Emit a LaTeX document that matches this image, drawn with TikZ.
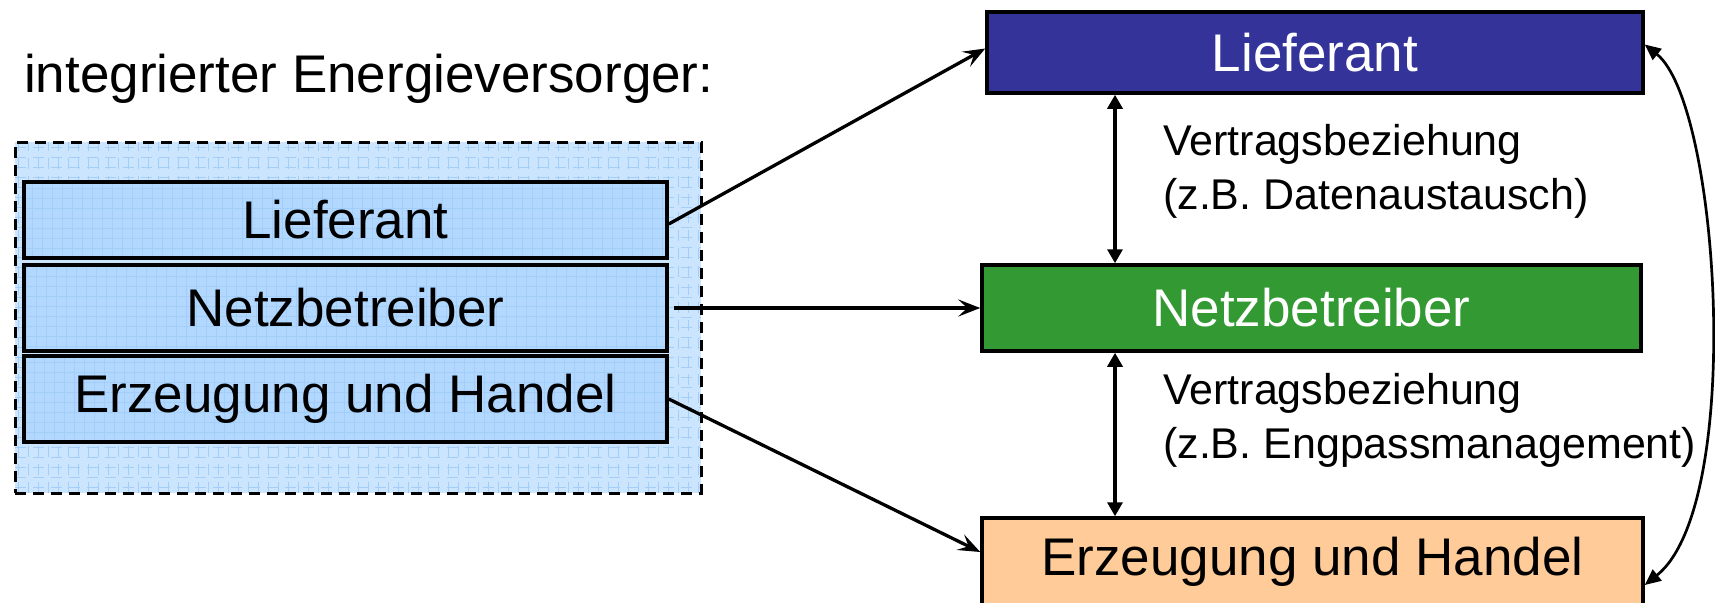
\documentclass[tikz,border=0pt]{standalone}
\usepackage{fontspec}
\setmainfont{Liberation Sans}
\usetikzlibrary{arrows.meta}
\definecolor{blueA}{HTML}{333399}
\definecolor{greenA}{HTML}{339933}
\definecolor{peachA}{HTML}{FFCC99}
\definecolor{outerfill}{HTML}{CCE5FF}
\definecolor{innerfill}{HTML}{B2D8FF}
\definecolor{gridc}{HTML}{A2CEF8}
\begin{document}
\begin{tikzpicture}[x=1pt,y=-1pt,
  bigfont/.style={font=\fontsize{53}{60}\selectfont},
  labfont/.style={font=\fontsize{43}{54}\selectfont},
  gridded/.style={path picture={\draw[gridc, line width=1pt, step=10pt]
      (path picture bounding box.south west) grid (path picture bounding box.north east);}},
  group/.style={draw=black, dash pattern=on 11pt off 7pt, line width=3pt, fill=outerfill, gridded,
      minimum width=686pt, minimum height=351pt, inner sep=0pt},
  lbox/.style={draw=black, line width=3.5pt, fill=innerfill, gridded, minimum width=643pt,
      inner sep=0pt, bigfont},
  rbox/.style={draw=black, line width=3.5pt, inner sep=0pt, bigfont},
  lineto/.style={draw=black, line width=3.3pt, -{Stealth[length=22pt,width=17pt,inset=9pt]}},
  twoway/.style={draw=black, line width=3.3pt, {Triangle[length=14pt,width=15pt]}-{Triangle[length=14pt,width=15pt]}},
]
\useasboundingbox (0,0) rectangle (1715,602);
\clip (0,0) rectangle (1715,602);

\node[anchor=west, bigfont, inner sep=0pt] (title) at (24,79) {integrierter Energieversorger:};

\node[group] (grp) at (358,317.5) {};
\node[lbox, minimum height=76pt] (L1) at (345.5,220) {Lieferant};
\node[lbox, minimum height=86pt] (L2) at (345.5,308) {Netzbetreiber};
\node[lbox, minimum height=86pt] (L3) at (345.5,399) {Erzeugung und Handel};

\node[rbox, fill=blueA, text=white, minimum width=656pt, minimum height=81pt] (R1) at (1315,52.5) {Lieferant};
\node[rbox, fill=greenA, text=white, minimum width=659pt, minimum height=86pt] (R2) at (1311.5,308) {Netzbetreiber};
\node[rbox, fill=peachA, text=black, minimum width=661pt, minimum height=88pt] (R3) at (1312.5,562) {Erzeugung und Handel};

\node[anchor=west, align=left, labfont, inner sep=0pt] (lab1) at (1163,171) {Vertragsbeziehung\\(z.B. Datenaustausch)};
\node[anchor=west, align=left, labfont, inner sep=0pt] (lab2) at (1163,420) {Vertragsbeziehung\\(z.B. Engpassmanagement)};

\coordinate (vx) at (1115,0);

\draw[lineto] ([yshift=-4pt]L1.east) -- ([yshift=4pt]R1.west);
\draw[lineto] ([xshift=5pt]L2.east) -- (R2.west);
\draw[lineto] (L3.east) -- ([yshift=10pt]R3.west);

\draw[twoway] (vx |- R1.south) -- (vx |- R2.north);
\draw[twoway] (vx |- R2.south) -- (vx |- R3.north);

\draw[line width=2.7pt, {Triangle[length=16pt,width=14pt]}-{Triangle[length=16pt,width=14pt]}]
  ([yshift=8pt]R1.east) .. controls +(75,60) and +(100,-80) .. ([yshift=-23pt]R3.east);
\end{tikzpicture}
\end{document}
